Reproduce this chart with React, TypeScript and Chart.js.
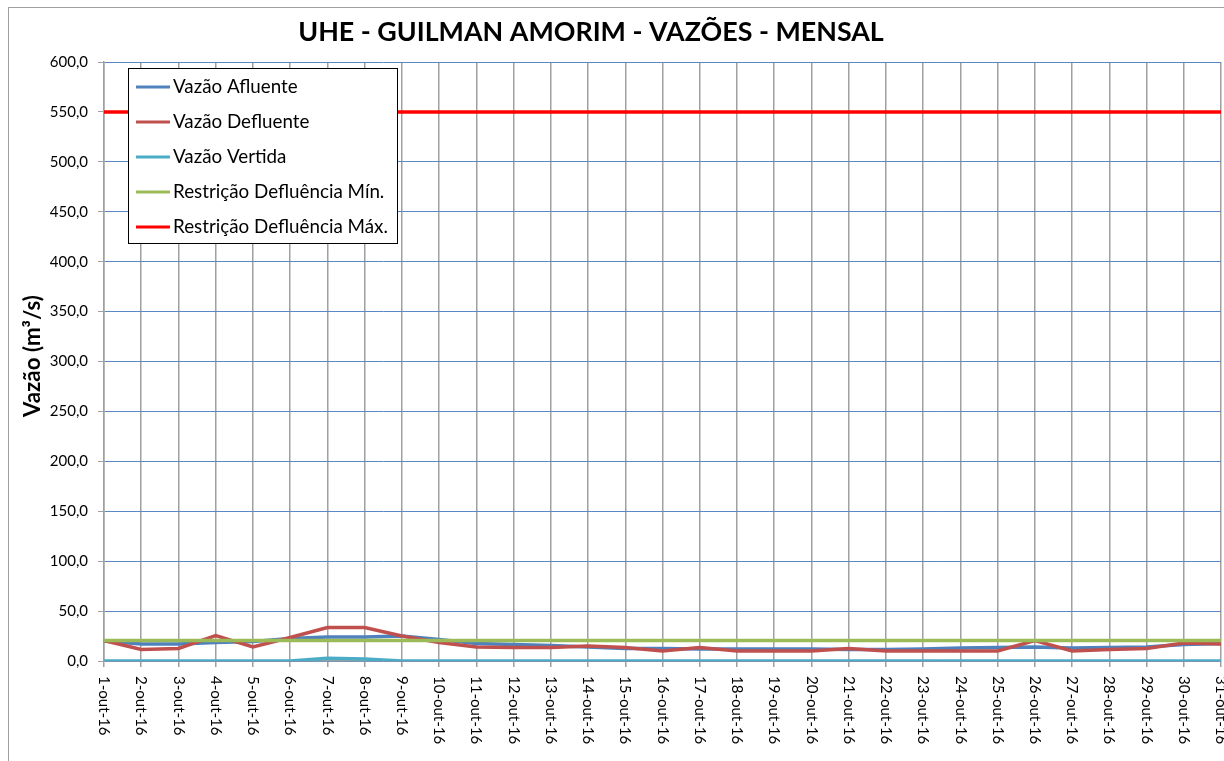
import React, { useEffect, useRef } from 'react';
import { Chart, registerables } from 'chart.js';

Chart.register(...registerables);

const TITLE = 'UHE - GUILMAN AMORIM - VAZÕES - MENSAL';
const Y_TITLE = 'Vazão (m³/s)';

const categories = [
  '1-out-16', '2-out-16', '3-out-16', '4-out-16', '5-out-16', '6-out-16', '7-out-16', '8-out-16',
  '9-out-16', '10-out-16', '11-out-16', '12-out-16', '13-out-16', '14-out-16', '15-out-16', '16-out-16',
  '17-out-16', '18-out-16', '19-out-16', '20-out-16', '21-out-16', '22-out-16', '23-out-16', '24-out-16',
  '25-out-16', '26-out-16', '27-out-16', '28-out-16', '29-out-16', '30-out-16', '31-out-16',
];

const vazaoAfluente = [
  20, 17, 17, 18.5, 19.5, 22.5, 24, 24, 25, 21.5, 17.5, 16.5, 15.5, 14, 12.5, 12.5,
  12, 12, 12, 12, 11.5, 11.5, 12, 13, 13.5, 14, 13, 13.5, 14, 16.5, 17.5,
];

const vazaoDefluente = [
  20.5, 11.5, 12.5, 25.5, 14, 23.5, 33.5, 33.5, 25, 18.5, 14, 13.5, 13.5, 15, 13.5, 10,
  13.5, 10, 10, 10, 12.5, 10, 10, 10, 10, 20.5, 10, 11.5, 12.5, 18, 17,
];

const vazaoVertida = [
  0, 0, 0, 0, 0, 0, 2.7, 2, 0, 0, 0, 0, 0, 0, 0, 0,
  0, 0, 0, 0, 0, 0, 0, 0, 0, 0, 0, 0, 0, 0, 0,
];

const restricaoMin = [
  20.5, 20.5, 20.5, 20.5, 20.5, 20.5, 20.5, 20.5, 20.5, 20.5, 20.5, 20.5, 20.5, 20.5, 20.5, 20.5,
  20.5, 20.5, 20.5, 20.5, 20.5, 20.5, 20.5, 20.5, 20.5, 20.5, 20.5, 20.5, 20.5, 20.5, 20.5,
];

const restricaoMax = [
  550, 550, 550, 550, 550, 550, 550, 550, 550, 550, 550, 550, 550, 550, 550, 550,
  550, 550, 550, 550, 550, 550, 550, 550, 550, 550, 550, 550, 550, 550, 550,
];

const seriesNames = [
  'Vazão Afluente',
  'Vazão Defluente',
  'Vazão Vertida',
  'Restrição Defluência Mín.',
  'Restrição Defluência Máx.',
];
const seriesColors = ['#4f81bd', '#c0504d', '#4bacc6', '#9bbb59', '#ff0000'];

const FONT = 'Lato, "Open Sans", "DejaVu Sans", sans-serif';

function fitSize(ctx: CanvasRenderingContext2D, text: string, target: number, weight: string, base: number) {
  ctx.font = `${weight} ${base}px ${FONT}`;
  const w = ctx.measureText(text).width;
  return (base * target) / w;
}

const decorPlugin = {
  id: 'decor',
  afterDraw(chart: any) {
    const ctx: CanvasRenderingContext2D = chart.ctx;
    const xs = chart.scales.x;
    const ys = chart.scales.y;
    ctx.save();
    ctx.fillStyle = '#000';

    // Title
    const ts = fitSize(ctx, TITLE, 586, 'bold', 24);
    ctx.font = `bold ${ts}px ${FONT}`;
    ctx.textAlign = 'center';
    ctx.textBaseline = 'middle';
    ctx.fillText(TITLE, 591, 32);

    // Y axis title
    const yts = fitSize(ctx, Y_TITLE, 122, 'bold', 18);
    ctx.save();
    ctx.translate(33, 356);
    ctx.rotate(-Math.PI / 2);
    ctx.font = `bold ${yts}px ${FONT}`;
    ctx.textAlign = 'center';
    ctx.textBaseline = 'middle';
    ctx.fillText(Y_TITLE, 0, 0);
    ctx.restore();

    // X tick labels rotated (reading top to bottom)
    ctx.font = `15px ${FONT}`;
    xs.ticks.forEach((t: any, i: number) => {
      const x = xs.getPixelForTick(i);
      ctx.save();
      ctx.translate(x, ys.bottom + 15);
      ctx.rotate(Math.PI / 2);
      ctx.textAlign = 'left';
      ctx.textBaseline = 'middle';
      ctx.fillText(String(xs.getLabelForValue(t.value)), 0, 0);
      ctx.restore();
    });

    // Legend
    const bx = 128, by = 68, bw = 269, bh = 175;
    ctx.fillStyle = '#fff';
    ctx.fillRect(bx, by, bw, bh);
    ctx.strokeStyle = '#000';
    ctx.lineWidth = 1;
    ctx.strokeRect(bx + 0.5, by + 0.5, bw, bh);
    const ls = fitSize(ctx, seriesNames[4], 215, 'normal', 16);
    ctx.font = `${ls}px ${FONT}`;
    ctx.textAlign = 'left';
    ctx.textBaseline = 'middle';
    chart.data.datasets.forEach((ds: any, i: number) => {
      const cy = by + 19 + i * 35;
      ctx.strokeStyle = ds.borderColor;
      ctx.lineWidth = 3;
      ctx.beginPath();
      ctx.moveTo(136, cy);
      ctx.lineTo(170, cy);
      ctx.stroke();
      ctx.fillStyle = '#000';
      ctx.fillText(ds.label, 173, cy);
    });
    ctx.restore();
  },
};

export default function App() {
  const canvasRef = useRef<HTMLCanvasElement | null>(null);

  useEffect(() => {
    const canvas = canvasRef.current;
    if (!canvas) return;
    const seriesData = [vazaoAfluente, vazaoDefluente, vazaoVertida, restricaoMin, restricaoMax];
    const chart = new Chart(canvas, {
      type: 'line',
      data: {
        labels: categories,
        datasets: seriesData.map((d, i) => ({
          label: seriesNames[i],
          data: d,
          borderColor: seriesColors[i],
          backgroundColor: seriesColors[i],
          borderWidth: 3.5,
          pointRadius: 0,
          tension: 0,
          fill: false,
          order: 5 - i,
        })),
      },
      options: {
        responsive: false,
        animation: false,
        devicePixelRatio: 1,
        layout: { padding: { top: 62, right: 39, left: 0, bottom: 0 } },
        plugins: {
          legend: { display: false },
          title: { display: false },
          tooltip: { enabled: false },
        },
        scales: {
          x: {
            type: 'category',
            offset: false,
            grid: {
              color: '#a0a0a0',
              lineWidth: 1.5,
              offset: false,
              drawTicks: true,
              tickLength: 6,
            },
            border: { display: true, color: '#a0a0a0', width: 1.5 },
            ticks: { display: false, autoSkip: false },
            afterFit: (scale: any) => {
              scale.height = 100;
            },
          },
          y: {
            min: 0,
            max: 600,
            grid: {
              color: '#5b87c5',
              lineWidth: 1,
              tickColor: '#a0a0a0',
              tickLength: 6,
            },
            border: { display: true, color: '#a0a0a0', width: 1.5 },
            ticks: {
              stepSize: 50,
              padding: 10,
              color: '#000',
              font: { family: FONT, size: 15 },
              callback: (v: any) => Number(v).toFixed(1).replace('.', ','),
            },
            afterFit: (scale: any) => {
              scale.width = 104;
            },
          },
        },
      },
      plugins: [decorPlugin],
    });
    return () => chart.destroy();
  }, []);

  return (
    <div
      style={{
        position: 'absolute',
        left: 0,
        top: 0,
        width: 1224,
        height: 761,
        overflow: 'hidden',
        background: '#fff',
      }}
    >
      <div
        style={{
          position: 'absolute',
          left: 8,
          top: 7,
          width: 1240,
          height: 800,
          borderLeft: '1px solid #a0a0a0',
          borderTop: '1px solid #a0a0a0',
        }}
      />
      <canvas
        ref={canvasRef}
        width={1260}
        height={761}
        style={{ position: 'absolute', left: 0, top: 0, width: 1260, height: 761 }}
      />
    </div>
  );
}
